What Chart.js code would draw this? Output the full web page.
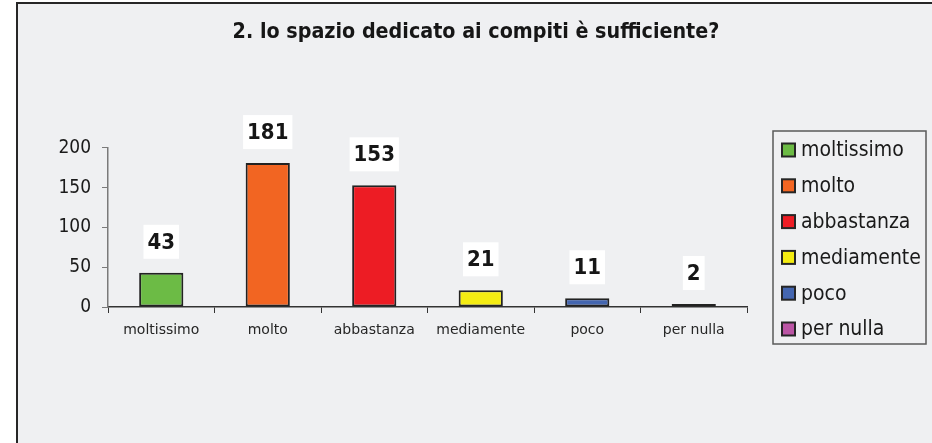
<!DOCTYPE html>
<html lang="it">
<head>
<meta charset="UTF-8">
<title>Spazio dedicato ai compiti</title>
<script src="https://cdn.jsdelivr.net/npm/chart.js"></script>
<style>
  html, body { margin: 0; background: #fff; overflow: hidden; }
  #grafico { display: block; }
</style>
</head>
<body>
<canvas id="grafico" width="932" height="443"></canvas>
<script>
const titolo = "2. lo spazio dedicato ai compiti è sufficiente?";
const categorie = ["moltissimo", "molto", "abbastanza", "mediamente", "poco", "per nulla"];
const risposte = [43, 181, 153, 21, 11, 2];
const colori = ["#6cbb45", "#f26522", "#ed1c24", "#f4ec12", "#4466b0", "#bb55a5"];
const tickY = [0, 50, 100, 150, 200];

const fam = "'DejaVu Sans Condensed', 'DejaVu Sans', sans-serif";

// sfondo grigio con bordo a sinistra e in alto
const pannello = {
  id: "pannello",
  beforeDraw(chart) {
    const ctx = chart.ctx;
    ctx.save();
    ctx.fillStyle = "#eff0f2";
    ctx.fillRect(17, 3, chart.width - 17, chart.height - 3);
    ctx.strokeStyle = "#262626";
    ctx.lineWidth = 2;
    ctx.beginPath();
    ctx.moveTo(17, chart.height);
    ctx.lineTo(17, 3);
    ctx.lineTo(chart.width, 3);
    ctx.stroke();
    ctx.restore();
  }
};

// etichette con riquadro bianco sopra le barre
const etichette = {
  id: "etichette",
  afterDatasetsDraw(chart) {
    const ctx = chart.ctx;
    const meta = chart.getDatasetMeta(0);
    ctx.save();
    ctx.font = "bold 22px " + fam;
    ctx.textAlign = "center";
    ctx.textBaseline = "middle";
    meta.data.forEach((bar, i) => {
      const testo = String(risposte[i]);
      const w = ctx.measureText(testo).width + 8;
      const y = bar.y - 31;
      ctx.fillStyle = "#ffffff";
      ctx.fillRect(bar.x - w / 2, y - 17, w, 34);
      ctx.fillStyle = "#161616";
      ctx.fillText(testo, bar.x, y + 1);
    });
    ctx.restore();
  }
};

// legenda a destra con bordo
const legenda = {
  id: "legenda",
  afterDraw(chart) {
    const ctx = chart.ctx;
    const x0 = chart.chartArea.right + 26;
    const y0 = 131;
    ctx.save();
    ctx.strokeStyle = "#5a5a5a";
    ctx.lineWidth = 1.5;
    ctx.strokeRect(x0, y0, 153, 213);
    ctx.font = "21px " + fam;
    ctx.textBaseline = "middle";
    categorie.forEach((nome, i) => {
      const cy = y0 + 19 + i * 35.8;
      ctx.fillStyle = colori[i];
      ctx.fillRect(x0 + 9, cy - 6.5, 13, 13);
      ctx.strokeStyle = "#262626";
      ctx.lineWidth = 2;
      ctx.strokeRect(x0 + 9, cy - 6.5, 13, 13);
      ctx.fillStyle = "#1a1a1a";
      ctx.fillText(nome, x0 + 28, cy + 1);
    });
    ctx.restore();
  }
};

new Chart(document.getElementById("grafico"), {
  type: "bar",
  data: {
    labels: categorie,
    datasets: [{
      data: risposte,
      backgroundColor: colori,
      borderColor: "#222",
      borderWidth: 2,
      borderSkipped: false,
      minBarLength: 3,
      barPercentage: 0.415,
      categoryPercentage: 1
    }]
  },
  options: {
    responsive: false,
    animation: false,
    layout: { padding: { left: 20, right: 0, top: 0, bottom: 96 } },
    plugins: {
      legend: { display: false },
      tooltip: { enabled: false },
      title: {
        display: true,
        text: titolo,
        color: "#161616",
        font: { family: fam, size: 21.3, weight: "bold" },
        padding: { top: 19.3, bottom: 103.1 }
      }
    },
    scales: {
      x: {
        afterFit: s => { s.height = 40; },
        grid: { drawOnChartArea: false, tickLength: 6, color: "#333", offset: true },
        border: { color: "#333", width: 1.5 },
        ticks: { padding: 9, color: "#262626", font: { family: "'DejaVu Sans', sans-serif", size: 14 } }
      },
      y: {
        min: 0,
        max: 200,
        afterBuildTicks: s => { s.ticks = tickY.map(v => ({ value: v })); },
        afterFit: s => { s.width = 88; },
        grid: { drawOnChartArea: false, tickLength: 6, color: "#7a7a7a" },
        border: { color: "#7a7a7a", width: 1.5 },
        ticks: { padding: 11, color: "#1a1a1a", font: { family: fam, size: 19 } }
      },
      spazio: {
        position: "right",
        grid: { display: false },
        border: { display: false },
        ticks: { display: false },
        afterFit: s => { s.width = 185; }
      }
    }
  },
  plugins: [pannello, etichette, legenda]
});
</script>
</body>
</html>
